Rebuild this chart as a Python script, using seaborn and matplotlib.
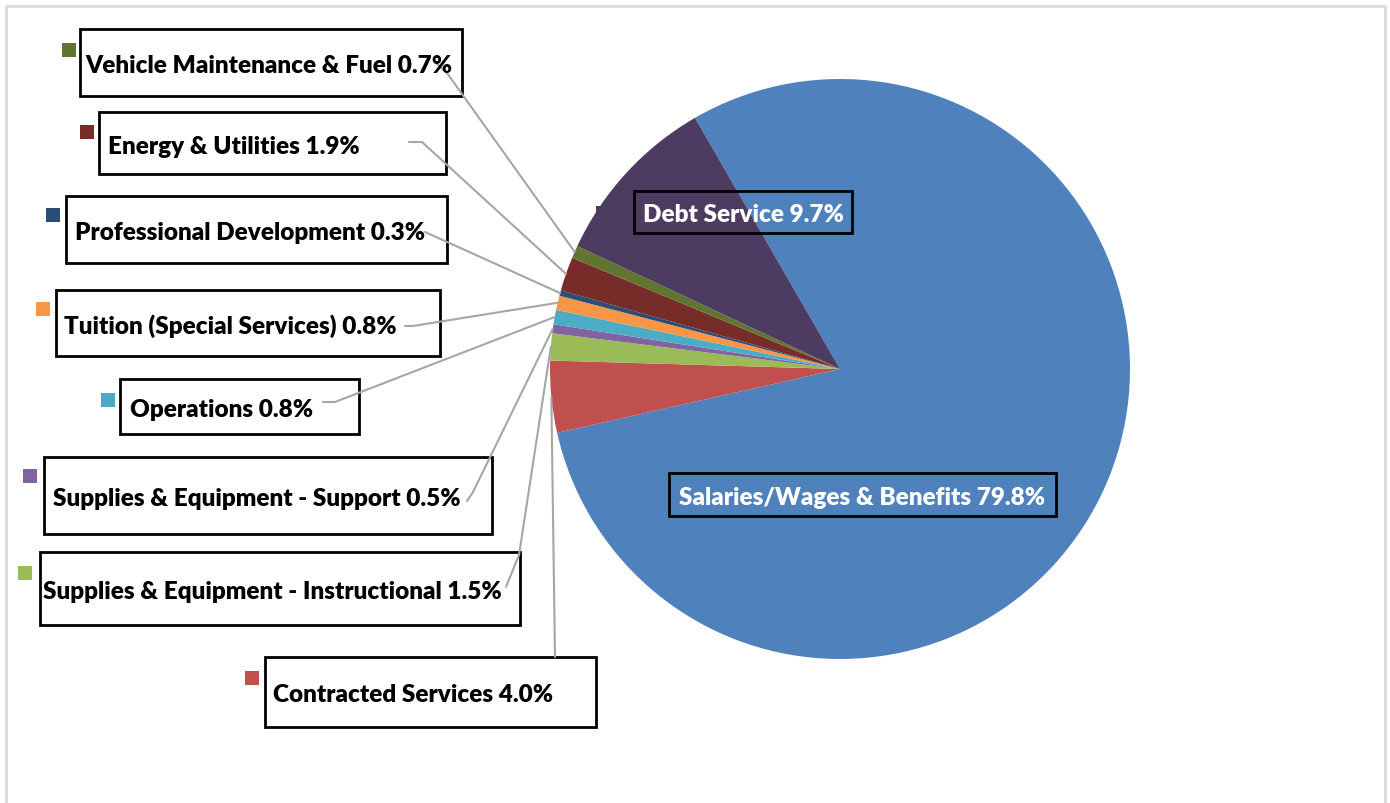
import numpy as np
import matplotlib.pyplot as plt
import seaborn as sns
from matplotlib.patches import Rectangle

# Datos del gráfico (orden de las porciones, en sentido horario)
categorias = [
    'Salaries/Wages & Benefits',
    'Contracted Services',
    'Supplies & Equipment - Instructional',
    'Supplies & Equipment - Support',
    'Operations',
    'Tuition (Special Services)',
    'Professional Development',
    'Energy & Utilities',
    'Vehicle Maintenance & Fuel',
    'Debt Service',
]
porcentajes = [79.8, 4.0, 1.5, 0.5, 0.8, 0.8, 0.3, 1.9, 0.7, 9.7]
colores = ['#4F81BD', '#C0504D', '#9BBB59', '#8064A2', '#4BACC6',
           '#F79646', '#2C4D75', '#772C2A', '#5F7530', '#4D3B62']

# Cajas de etiqueta en pixeles: (x0, y0, x1, y1), x del texto, cuadro de leyenda (x, y)
cajas = [
    (669, 474, 1056, 517, 679, None),
    (265, 658, 596, 728, 273, (245, 672)),
    (40, 553, 520, 626, 43, (18, 567)),
    (44, 458, 492, 535, 53, (23, 470)),
    (120, 380, 359, 435, 130, (101, 394)),
    (56, 291, 440, 357, 64, (36, 303)),
    (66, 197, 447, 264, 75, (46, 209)),
    (99, 113, 446, 175, 108, (80, 126)),
    (80, 30, 462, 97, 85, (62, 44)),
    (634, 192, 852, 234, 643, (596, 207)),
]
# Inicio de las líneas guía (pixeles); None = etiqueta dentro de la porción
guias = [
    None,
    [(555, 658)],
    [(506, 588), (519, 556)],
    [(467, 502), (473, 493)],
    [(323, 403), (335, 403)],
    [(405, 327), (413, 327)],
    [(425, 233)],
    [(409, 143), (422, 143)],
    [(436, 64), (447, 74)],
    None,
]

W, H = 1390, 804
cx, cy, R = 840, 370, 290
inicio = 120

sns.set_theme(style='white')
plt.rcParams['font.family'] = ['Lato', 'DejaVu Sans']

fig = plt.figure(figsize=(W / 100, H / 100), dpi=100)
fig.patch.set_facecolor('white')

# Pie
ax = fig.add_axes([(cx - R) / W, (H - cy - R) / H, 2 * R / W, 2 * R / H])
ax.pie(porcentajes, colors=colores, startangle=inicio, counterclock=False,
       radius=1, wedgeprops=dict(linewidth=0))
ax.set_xlim(-1, 1)
ax.set_ylim(-1, 1)
ax.set_aspect('equal')
ax.axis('off')

# Capa en pixeles para etiquetas
ov = fig.add_axes([0, 0, 1, 1], facecolor='none')
ov.set_xlim(0, W)
ov.set_ylim(H, 0)
ov.axis('off')

# Marco del gráfico
ov.add_patch(Rectangle((6, 7), 1379, 820, fill=False, edgecolor='#D9D9D9', lw=2))

# Angulos medios de cada porción
acum = np.cumsum([0] + porcentajes)
medios = inicio - (acum[:-1] + acum[1:]) / 2 / 100 * 360

for i, (nombre, val) in enumerate(zip(categorias, porcentajes)):
    x0, y0, x1, y1, tx, llave = cajas[i]
    interior = guias[i] is None
    if guias[i] is not None:
        ang = np.deg2rad(medios[i])
        fin = (cx + R * np.cos(ang), cy - R * np.sin(ang))
        pts = guias[i] + [fin]
        ov.plot([p[0] for p in pts], [p[1] for p in pts], color='#A6A6A6', lw=1.5, zorder=2)
    ov.add_patch(Rectangle((x0, y0), x1 - x0, y1 - y0, fill=interior is False,
                           facecolor='white', edgecolor='black', lw=2, zorder=1))
    if llave is not None:
        ov.add_patch(Rectangle(llave, 14, 14, facecolor=colores[i], edgecolor='none', zorder=3))
    ov.text(tx, (y0 + y1) / 2 + 2.5, f'{nombre} {val:.1f}%', ha='left', va='center',
            fontsize=17.5, fontweight='heavy', color='white' if interior else 'black', zorder=4)

fig.savefig('out.png', dpi=100, facecolor='white')
